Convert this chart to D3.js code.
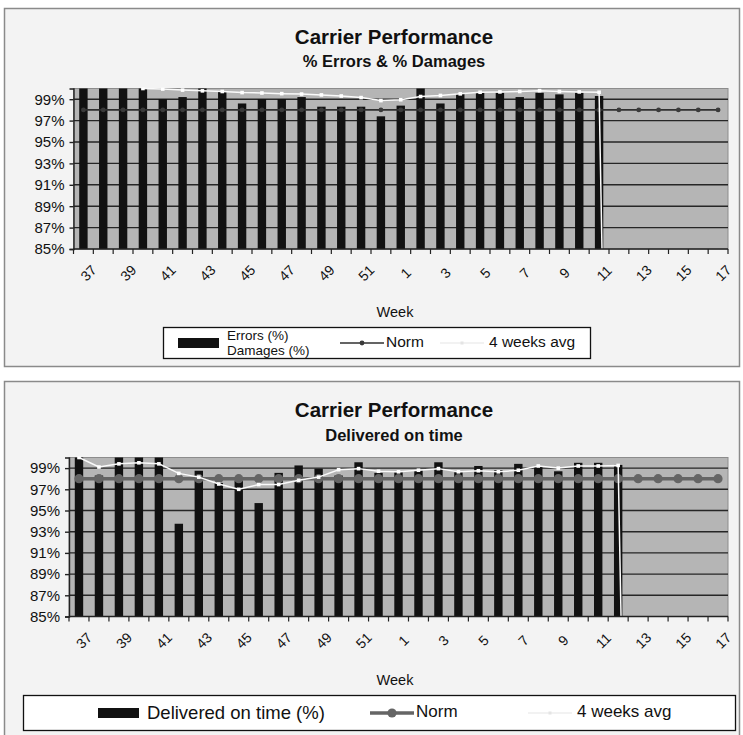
<!DOCTYPE html>
<html><head><meta charset="utf-8">
<script src="https://cdn.jsdelivr.net/npm/d3@7"></script>
<style>
body{margin:0;background:#fff}
text{font-family:"Liberation Sans",Arial,sans-serif;fill:#111}
</style>
</head><body>
<svg id="c" width="743" height="735"></svg>
<script>
// ---------- data ----------
const weeks = ["37","38","39","40","41","42","43","44","45","46","47","48","49","50","51","52",
  "1","2","3","4","5","6","7","8","9","10","11","12","13","14","15","16","17"];
const weekTickLabels = ["37","39","41","43","45","47","49","51","1","3","5","7","9","11","13","15","17"];
const yTickValues = [85,87,89,91,93,95,97,99];

// chart 1: Errors / Damages (%)
const errDmgWeeks = ["37","38","39","40","41","42","43","44","45","46","47","48","49","50","51","52",
  "1","2","3","4","5","6","7","8","9","10","11"];
const errDmgValues = [100,100,100,100,99.0,99.2,100,99.7,98.6,99.0,99.0,99.2,98.3,98.3,98.3,97.4,
  98.4,100,98.6,99.5,99.6,99.6,99.2,99.6,99.45,99.6,99.3];
const errDmgAvgWeeks = ["40","41","42","43","44","45","46","47","48","49","50","51","52",
  "1","2","3","4","5","6","7","8","9","10","11","12"];
const errDmgAvgValues = [100,99.95,99.85,99.78,99.72,99.62,99.58,99.52,99.48,99.4,99.3,99.15,98.87,
  98.95,99.25,99.35,99.5,99.65,99.68,99.72,99.8,99.72,99.68,99.65,0];
const normTop = [98,98,98,98,98,98,98,98,98,98,98,98,98,98,98,98,98,98,98,98,98,98,98,98,98,98,98,98,98,98,98,98,98];

// chart 2: Delivered on time (%)
const delWeeks = ["37","38","39","40","41","42","43","44","45","46","47","48","49","50","51","52",
  "1","2","3","4","5","6","7","8","9","10","11","12"];
const delValues = [100,98.3,100,100,100,93.75,98.75,97.6,97.8,95.7,98.55,99.25,98.95,98.3,99.55,98.55,
  98.6,98.8,99.55,98.6,99.2,98.8,99.4,99.2,98.7,99.5,99.5,99.3];
const delAvgWeeks = ["37","38","39","40","41","42","43","44","45","46","47","48","49","50","51","52",
  "1","2","3","4","5","6","7","8","9","10","11","12","13"];
const delAvgValues = [100,99.1,99.4,99.5,99.4,98.5,98.15,97.5,97.0,97.45,97.45,97.85,98.15,98.85,98.95,98.7,
  98.65,98.8,98.95,98.65,98.75,98.65,98.8,99.2,99.0,99.2,99.2,99.25,0];
const normBottom = [98,98,98,98,98,98,98,98,98,98,98,98,98,98,98,98,98,98,98,98,98,98,98,98,98,98,98,98,98,98,98,98,98];

// ---------- drawing ----------
const svg = d3.select("#c");

function drawPanel(o, idx) {
  const g = svg.append("g");
  // frame
  g.append("rect").attr("x", o.frame[0]).attr("y", o.frame[1]).attr("width", o.frame[2]).attr("height", o.frame[3])
    .attr("fill", "#f3f3f3").attr("stroke", "#8a8a8a").attr("stroke-width", 1.5);
  // titles
  g.append("text").attr("x", o.titleX).attr("y", o.titleY).attr("text-anchor", "middle")
    .attr("font-size", 20.5).attr("font-weight", "bold").text(o.title);
  g.append("text").attr("x", o.titleX).attr("y", o.titleY + 23.5).attr("text-anchor", "middle")
    .attr("font-size", 16.5).attr("font-weight", "bold").text(o.subtitle);

  const x = d3.scaleBand().domain(weeks).range([o.px0, o.px1]).padding(0);
  const y = d3.scaleLinear().domain([85, 100]).range([o.py1, o.py0]);
  const bw = x.bandwidth();

  // plot area
  g.append("rect").attr("x", o.px0).attr("y", o.py0).attr("width", o.px1 - o.px0).attr("height", o.py1 - o.py0)
    .attr("fill", "#b5b5b5").attr("stroke", "#8c8c8c").attr("stroke-width", 1);

  // gridlines
  g.append("g").selectAll("line").data(yTickValues.filter(v => v > 85)).join("line")
    .attr("x1", o.px0).attr("x2", o.px1).attr("y1", d => y(d)).attr("y2", d => y(d))
    .attr("stroke", "#262626").attr("stroke-width", 1.4);

  const clipId = "clip" + idx;
  g.append("clipPath").attr("id", clipId).append("rect")
    .attr("x", o.px0).attr("y", o.py0 - 1).attr("width", o.px1 - o.px0).attr("height", o.py1 - o.py0 + 1);

  // bars
  const bars = o.barWeeks.map((w, i) => ({w, v: o.barValues[i]}));
  g.append("g").selectAll("rect").data(bars).join("rect")
    .attr("x", d => x(d.w) + bw / 2 - o.barW / 2).attr("width", o.barW)
    .attr("y", d => y(d.v)).attr("height", d => y(85) - y(d.v))
    .attr("fill", "#111");

  const line = d3.line().x(d => x(d.w) + bw / 2).y(d => y(d.v));

  // norm
  const norm = weeks.map((w, i) => ({w, v: o.norm[i]}));
  const ng = g.append("g").attr("clip-path", `url(#${clipId})`);
  ng.append("path").datum(norm).attr("d", line).attr("fill", "none")
    .attr("stroke", o.normColor).attr("stroke-width", o.normWidth);
  ng.selectAll("circle").data(norm).join("circle")
    .attr("cx", d => x(d.w) + bw / 2).attr("cy", d => y(d.v)).attr("r", o.normR)
    .attr("fill", o.normMarker);

  // 4 weeks avg
  const avg = o.avgWeeks.map((w, i) => ({w, v: o.avgValues[i]}));
  const ag = g.append("g").attr("clip-path", `url(#${clipId})`);
  ag.append("path").datum(avg).attr("d", line).attr("fill", "none")
    .attr("stroke", "#fafafa").attr("stroke-width", 1.5);
  ag.selectAll("rect").data(avg).join("rect")
    .attr("x", d => x(d.w) + bw / 2 - 1.8).attr("y", d => y(d.v) - 1.8)
    .attr("width", 3.6).attr("height", 3.6).attr("fill", "#fff");

  // y axis
  const ya = g.append("g").attr("transform", `translate(${o.px0},0)`)
    .call(d3.axisLeft(y).tickValues(yTickValues).tickFormat(d => d + "%").tickSize(4).tickPadding(5));
  ya.select(".domain").attr("stroke", "#222").attr("stroke-width", 1.4);
  ya.selectAll(".tick line").attr("stroke", "#222").attr("stroke-width", 1.4);
  ya.selectAll(".tick text").attr("font-size", 15).attr("fill", "#222")
    .attr("font-family", '"Liberation Sans",Arial,sans-serif');

  // x axis line + ticks at category boundaries
  g.append("line").attr("x1", o.px0).attr("x2", o.px1).attr("y1", y(85)).attr("y2", y(85))
    .attr("stroke", "#222").attr("stroke-width", 1.4);
  const bounds = weeks.map(w => x(w)).concat([o.px1]);
  g.append("g").selectAll("line").data(bounds).join("line")
    .attr("x1", d => d).attr("x2", d => d).attr("y1", y(85)).attr("y2", y(85) + 5)
    .attr("stroke", "#222").attr("stroke-width", 1.2);
  g.append("g").selectAll("text").data(weekTickLabels).join("text")
    .attr("transform", d => `translate(${x(d) + bw / 2 + 6},${y(85) + 25}) rotate(-45)`)
    .attr("text-anchor", "middle").attr("dominant-baseline", "middle")
    .attr("font-size", 14).attr("fill", "#222").text(d => d);

  // axis title
  g.append("text").attr("x", o.weekX).attr("y", o.weekY).attr("text-anchor", "middle")
    .attr("font-size", 14.5).attr("fill", "#222").text("Week");

  // legend
  const L = o.legend;
  g.append("rect").attr("x", L.x).attr("y", L.y).attr("width", L.w).attr("height", L.h)
    .attr("fill", "#fff").attr("stroke", "#111").attr("stroke-width", 1.3);
  const cy = L.y + L.h / 2;
  g.append("rect").attr("x", L.barX).attr("y", cy - 5).attr("width", 41).attr("height", 10).attr("fill", "#111");
  L.barLabel.forEach((t, i) => {
    g.append("text").attr("x", L.barX + 49).attr("y", cy + L.barLabelDy[i]).attr("dominant-baseline", "middle")
      .attr("font-size", L.fs0).attr("fill", "#222").text(t);
  });
  g.append("line").attr("x1", L.normX).attr("x2", L.normX + 44).attr("y1", cy).attr("y2", cy)
    .attr("stroke", o.normColor).attr("stroke-width", o.normWidth);
  g.append("circle").attr("cx", L.normX + 22).attr("cy", cy).attr("r", o.normR).attr("fill", o.normMarker);
  g.append("text").attr("x", L.normX + 46).attr("y", cy).attr("dominant-baseline", "middle")
    .attr("font-size", L.fs1).attr("fill", "#222").text("Norm");
  g.append("line").attr("x1", L.avgX).attr("x2", L.avgX + 44).attr("y1", cy).attr("y2", cy)
    .attr("stroke", "#eeeeee").attr("stroke-width", 1.3);
  g.append("rect").attr("x", L.avgX + 20.5).attr("y", cy - 1.5).attr("width", 3).attr("height", 3).attr("fill", "#e4e4e4");
  g.append("text").attr("x", L.avgX + 49).attr("y", cy).attr("dominant-baseline", "middle")
    .attr("font-size", L.fs1).attr("fill", "#222").text("4 weeks avg");
}

drawPanel({
  frame: [4.5, 8.5, 735, 358],
  title: "Carrier Performance", subtitle: "% Errors & % Damages", titleX: 394, titleY: 43.5,
  px0: 73.5, px1: 728, py0: 88.5, py1: 249,
  barWeeks: errDmgWeeks, barValues: errDmgValues, barW: 8.4,
  avgWeeks: errDmgAvgWeeks, avgValues: errDmgAvgValues,
  norm: normTop, normColor: "#303030", normWidth: 1.6, normR: 2.4, normMarker: "#3a3a3a",
  weekX: 395, weekY: 317,
  legend: {x: 163.5, y: 327.5, w: 427, h: 31, barX: 178, barLabel: ["Errors (%)", "Damages (%)"], barLabelDy: [-7, 8],
    fs0: 13.5, fs1: 15.5, normX: 340, avgX: 440}
}, 0);

drawPanel({
  frame: [4.5, 381.5, 735, 370],
  title: "Carrier Performance", subtitle: "Delivered on time", titleX: 394, titleY: 417,
  px0: 69, px1: 728, py0: 457.5, py1: 616.5,
  barWeeks: delWeeks, barValues: delValues, barW: 8.4,
  avgWeeks: delAvgWeeks, avgValues: delAvgValues,
  norm: normBottom, normColor: "#656565", normWidth: 3.5, normR: 4.6, normMarker: "#656565",
  weekX: 395, weekY: 685,
  legend: {x: 23.5, y: 695.5, w: 712, h: 35, barX: 98, barLabel: ["Delivered on time (%)"], barLabelDy: [1],
    fs0: 18.5, fs1: 17, normX: 370, avgX: 528}
}, 1);
</script>
</body></html>
